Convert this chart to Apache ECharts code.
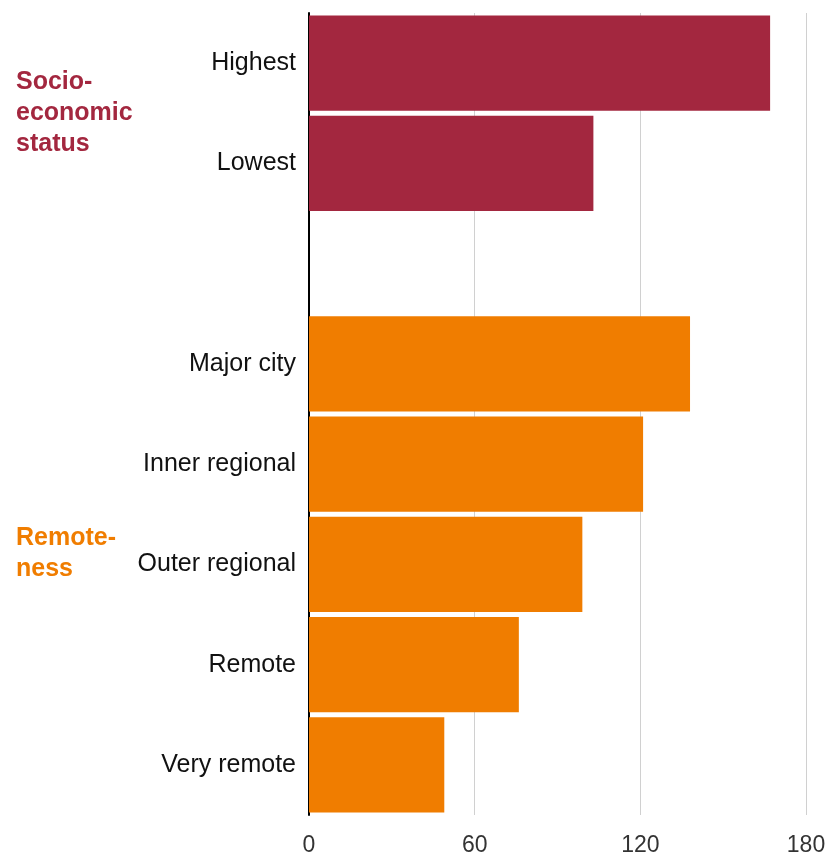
<!DOCTYPE html>
<html>
<head>
<meta charset="utf-8">
<script src="https://cdn.jsdelivr.net/npm/echarts@6/dist/echarts.min.js"></script>
<style>
html,body{margin:0;padding:0;background:#fff;}
#c{width:832px;height:859px;}
</style>
</head>
<body>
<div id="c"></div>
<script>
const categories = ['Highest', 'Lowest', '', 'Major city', 'Inner regional', 'Outer regional', 'Remote', 'Very remote'];
const socioValues = [167, 103, '-', '-', '-', '-', '-', '-'];
const remoteValues = ['-', '-', '-', 138, 121, 99, 76, 49];
const xTicks = [0, 60, 120, 180];
const groupLabels = [
  { text: 'Socio-\neconomic\nstatus', color: '#a3273f', top: 67 },
  { text: 'Remote-\nness', color: '#f07d00', top: 523 }
];

const chart = echarts.init(document.getElementById('c'));
chart.setOption({
  animation: false,
  grid: { left: 309, right: 26, top: 13, bottom: 44 },
  xAxis: {
    type: 'value', min: xTicks[0], max: xTicks[xTicks.length - 1], interval: 60,
    axisLine: { show: false }, axisTick: { show: false },
    splitLine: { lineStyle: { color: '#d0d0d0', width: 1 } },
    axisLabel: { fontFamily: 'Liberation Sans', fontSize: 23, color: '#333', margin: 19 }
  },
  yAxis: {
    type: 'category', data: categories, inverse: true,
    axisLine: { show: true, lineStyle: { color: '#000', width: 2 } },
    axisTick: { show: false },
    axisLabel: { fontFamily: 'Liberation Sans', fontSize: 25, color: '#111', margin: 13 }
  },
  series: [
    { type: 'bar', stack: 's', data: socioValues, barCategoryGap: '5%', itemStyle: { color: '#a3273f' } },
    { type: 'bar', stack: 's', data: remoteValues, barCategoryGap: '5%', itemStyle: { color: '#f07d00' } }
  ],
  graphic: groupLabels.map(g => ({
    type: 'text', left: 16, top: g.top,
    style: { text: g.text, fill: g.color, font: 'bold 25px "Liberation Sans"', lineHeight: 31 }
  }))
});
</script>
</body>
</html>
